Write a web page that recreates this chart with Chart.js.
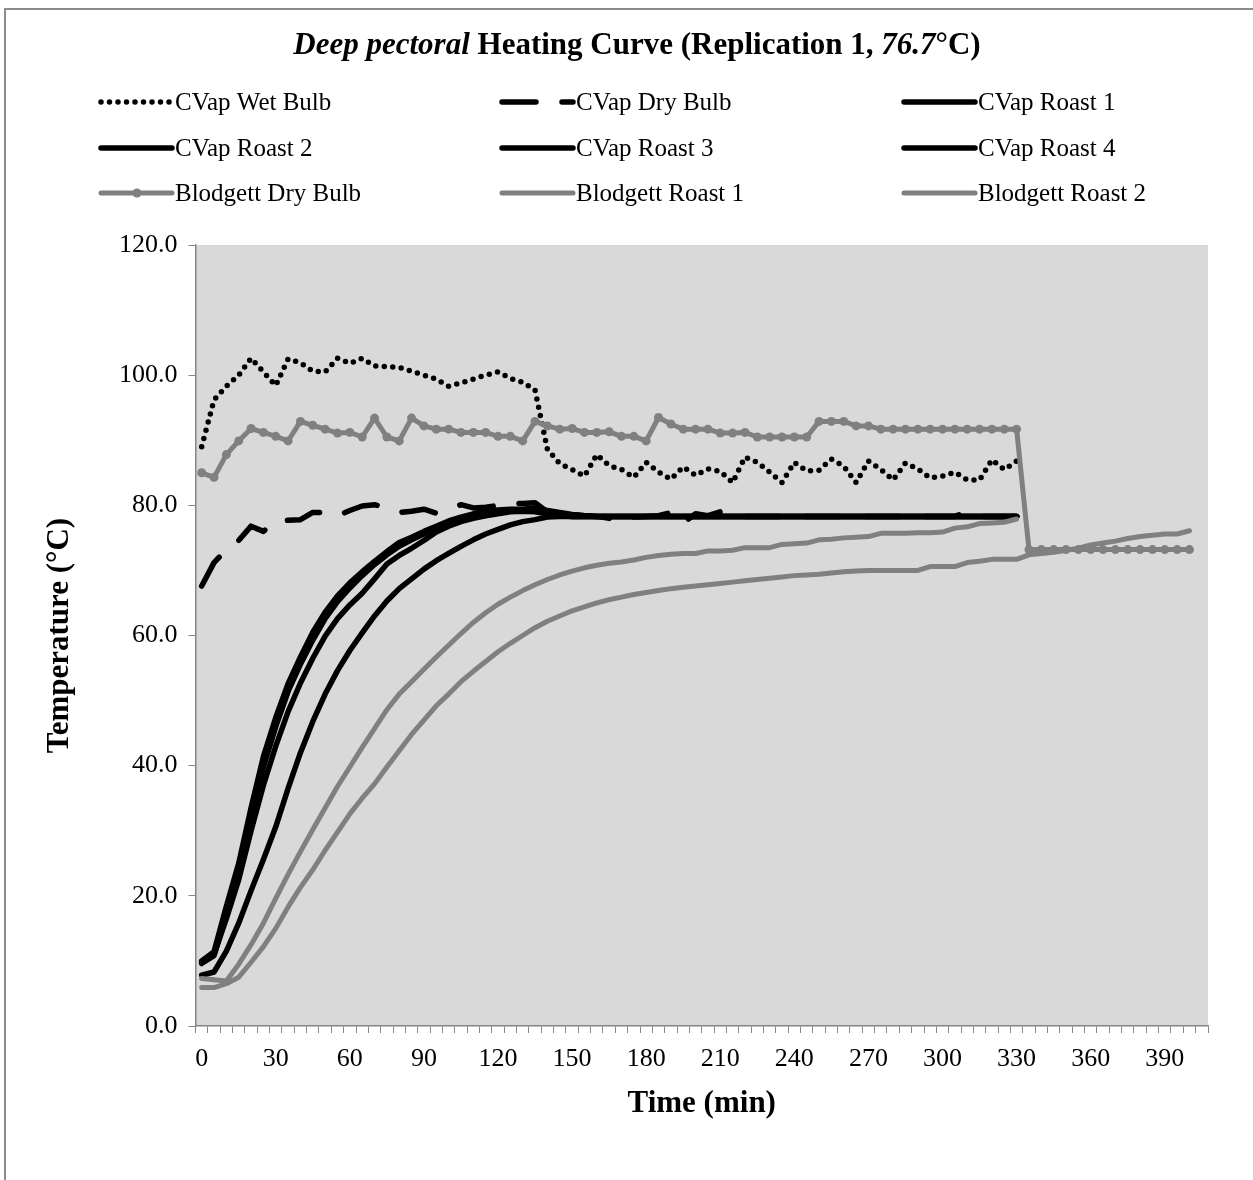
<!DOCTYPE html>
<html><head><meta charset="utf-8">
<script src="https://cdn.jsdelivr.net/npm/chart.js@4.4.1/dist/chart.umd.min.js"></script>
<style>html,body{margin:0;padding:0;background:#fff;}canvas{display:block;}</style>
</head><body>
<canvas id="c" width="1253" height="1180"></canvas>
<script>
const timeLabels = [0,5,10,15,20,25,30,35,40,45,50,55,60,65,70,75,80,85,90,95,100,105,110,115,120,125,130,135,140,145,150,155,160,165,170,175,180,185,190,195,200,205,210,215,220,225,230,235,240,245,250,255,260,265,270,275,280,285,290,295,300,305,310,315,320,325,330,335,340,345,350,355,360,365,370,375,380,385,390,395,400,405];
const yTicks = [0,20,40,60,80,100,120];

const cvapWetBulb = [89.0,96.2,98.3,100.0,102.6,100.5,98.4,102.5,101.9,100.6,100.5,102.6,101.8,102.6,101.4,101.3,101.2,100.6,100.0,99.4,98.3,98.8,99.4,100.0,100.5,99.5,98.9,97.7,88.6,86.4,85.5,84.5,87.8,86.1,85.5,84.3,86.6,85.1,84.0,85.9,84.6,85.6,85.2,83.5,87.4,86.6,85.1,83.5,86.6,85.3,85.4,87.1,86.0,83.5,86.8,85.5,83.9,86.5,85.6,84.2,84.5,85.1,83.9,83.9,87.0,85.5,86.8];
const cvapDryBulb = [67.6,71.2,73.2,74.6,76.8,76.0,77.6,77.7,77.8,78.9,78.9,78.4,79.2,79.9,80.1,79.6,78.9,79.1,79.4,78.8,79.4,80.1,79.6,79.7,80.0,80.3,80.3,80.4,79.0,78.5,78.6,78.4,78.3,78.0,77.5,78.2,78.3,78.4,78.9,77.3,78.7,78.4,79.0,78.3,78.3,78.3,78.3,78.3,78.3,78.3,78.3,78.3,78.3,78.3,78.3,78.3,78.3,78.3,78.3,78.3,78.3,78.3,79.0,78.3,78.3,78.3,78.3];
const cvapRoast1 = [10.0,11.4,18.4,25.0,33.5,41.4,47.4,52.6,56.7,60.5,63.6,66.1,68.1,69.8,71.4,72.9,74.3,75.1,76.0,76.8,77.6,78.2,78.7,79.1,79.3,79.4,79.4,79.6,79.2,78.9,78.6,78.4,78.3,78.3,78.3,78.3,78.3,78.3,78.3,78.3,78.3,78.3,78.3,78.3,78.3,78.3,78.3,78.3,78.3,78.3,78.3,78.3,78.3,78.3,78.3,78.3,78.3,78.3,78.3,78.3,78.3,78.3,78.3,78.3,78.3,78.3,78.3];
const cvapRoast2 = [9.6,10.8,17.0,23.6,31.8,39.8,46.0,51.4,55.6,59.3,62.6,65.2,67.3,69.2,70.9,72.4,73.7,74.7,75.6,76.4,77.2,77.8,78.3,78.7,79.0,79.2,79.3,79.1,78.8,78.5,78.3,78.3,78.3,78.3,78.3,78.3,78.3,78.3,78.3,78.3,78.3,78.3,78.3,78.3,78.3,78.3,78.3,78.3,78.3,78.3,78.3,78.3,78.3,78.3,78.3,78.3,78.3,78.3,78.3,78.3,78.3,78.3,78.3,78.3,78.3,78.3,78.3];
const cvapRoast3 = [9.8,11.0,16.5,22.5,30.0,37.0,43.0,48.3,52.7,56.5,59.9,62.6,64.7,66.5,68.7,71.0,72.3,73.4,74.6,75.9,76.8,77.5,78.0,78.4,78.7,79.0,79.1,79.0,78.7,78.4,78.3,78.3,78.3,78.3,78.3,78.3,78.3,78.3,78.3,78.3,78.3,78.3,78.3,78.3,78.3,78.3,78.3,78.3,78.3,78.3,78.3,78.3,78.3,78.3,78.3,78.3,78.3,78.3,78.3,78.3,78.3,78.3,78.3,78.3,78.3,78.3,78.3];
const cvapRoast4 = [7.8,8.3,11.5,15.8,20.8,25.6,30.6,36.5,42.0,46.8,51.0,54.6,57.7,60.4,63.0,65.3,67.2,68.7,70.2,71.5,72.6,73.7,74.7,75.6,76.3,77.0,77.5,77.8,78.2,78.3,78.3,78.3,78.3,78.3,78.3,78.3,78.3,78.3,78.3,78.3,78.3,78.3,78.3,78.3,78.3,78.3,78.3,78.3,78.3,78.3,78.3,78.3,78.3,78.3,78.3,78.3,78.3,78.3,78.3,78.3,78.3,78.3,78.3,78.3,78.3,78.3,78.3];
const blodgettDryBulb = [85.0,84.3,87.8,89.9,91.8,91.2,90.6,89.9,92.9,92.3,91.7,91.1,91.2,90.5,93.4,90.5,89.9,93.4,92.2,91.7,91.7,91.2,91.2,91.2,90.6,90.6,89.9,92.9,92.2,91.7,91.8,91.2,91.2,91.3,90.6,90.6,89.9,93.5,92.5,91.7,91.7,91.7,91.1,91.1,91.2,90.5,90.5,90.5,90.5,90.5,92.9,92.9,92.9,92.2,92.2,91.7,91.7,91.7,91.7,91.7,91.7,91.7,91.7,91.7,91.7,91.7,91.7,73.2,73.2,73.2,73.2,73.2,73.2,73.2,73.2,73.2,73.2,73.2,73.2,73.2,73.2];
const blodgettRoast1 = [7.3,7.1,6.9,9.5,12.5,15.8,19.6,23.3,26.8,30.2,33.5,36.8,39.8,42.8,45.7,48.6,51.0,52.9,54.8,56.7,58.5,60.3,62.0,63.5,64.8,65.9,66.9,67.8,68.6,69.3,69.9,70.4,70.8,71.1,71.3,71.6,72.0,72.3,72.5,72.6,72.6,73.0,73.0,73.1,73.5,73.5,73.5,74.0,74.1,74.2,74.7,74.8,75.0,75.1,75.2,75.7,75.7,75.7,75.8,75.8,75.9,76.5,76.7,77.2,77.3,77.4,77.9];
const blodgettRoast2 = [5.9,5.9,6.5,7.5,9.8,12.2,15.0,18.3,21.3,24.0,27.0,29.8,32.6,35.0,37.2,39.8,42.3,44.8,47.0,49.2,51.0,52.9,54.5,56.0,57.5,58.8,60.0,61.2,62.2,63.0,63.8,64.4,65.0,65.5,65.9,66.3,66.6,66.9,67.2,67.4,67.6,67.8,68.0,68.2,68.4,68.6,68.8,69.0,69.2,69.3,69.4,69.6,69.8,69.9,70.0,70.0,70.0,70.0,70.0,70.6,70.6,70.6,71.2,71.4,71.7,71.7,71.7,72.4,72.6,72.8,73.1,73.4,73.9,74.2,74.5,74.9,75.2,75.4,75.6,75.6,76.1];

const seriesNames = ['CVap Wet Bulb','CVap Dry Bulb','CVap Roast 1','CVap Roast 2','CVap Roast 3','CVap Roast 4','Blodgett Dry Bulb','Blodgett Roast 1','Blodgett Roast 2'];

const FONT = "'Liberation Serif','Times New Roman',serif";
const BLACK = '#000000', GRAY = '#808080', AXIS = '#868686';

function ds(label, data, color, extra) {
  return Object.assign({label, data, borderColor: color, backgroundColor: color, borderWidth: 5,
    pointRadius: 0, pointHoverRadius: 0, borderCapStyle: 'round', borderJoinStyle: 'round',
    tension: 0, spanGaps: false, fill: false}, extra || {});
}
const datasets = [
  ds(seriesNames[0], cvapWetBulb, BLACK, {borderWidth: 5.5, borderDash: [0, 8.5]}),
  ds(seriesNames[1], cvapDryBulb, BLACK, {borderWidth: 5.5, borderDash: [34, 26]}),
  ds(seriesNames[2], cvapRoast1, BLACK, {borderWidth: 5.5}),
  ds(seriesNames[3], cvapRoast2, BLACK, {borderWidth: 5.5}),
  ds(seriesNames[4], cvapRoast3, BLACK, {borderWidth: 5.5}),
  ds(seriesNames[5], cvapRoast4, BLACK, {borderWidth: 5.5}),
  ds(seriesNames[6], blodgettDryBulb, GRAY, {pointRadius: 4.5, pointBorderWidth: 0, pointBackgroundColor: GRAY, pointStyle: 'circle'}),
  ds(seriesNames[7], blodgettRoast1, GRAY),
  ds(seriesNames[8], blodgettRoast2, GRAY)
];
datasets.forEach((d, i) => { d.order = datasets.length - i; });

const bgPlugin = {
  id: 'bg',
  beforeDraw(chart) {
    const {ctx, chartArea: a} = chart;
    ctx.save();
    ctx.fillStyle = '#ffffff';
    ctx.fillRect(0, 0, chart.width, chart.height);
    ctx.fillStyle = '#d9d9d9';
    ctx.fillRect(a.left, a.top, a.right - a.left, a.bottom - a.top);
    ctx.strokeStyle = '#8c8c8c';
    ctx.lineWidth = 2;
    ctx.beginPath();
    ctx.moveTo(5, chart.height); ctx.lineTo(5, 9); ctx.lineTo(chart.width, 9);
    ctx.stroke();
    ctx.restore();
  },
  afterDraw(chart) {
    const {ctx, chartArea: a} = chart;
    ctx.save();
    // title
    const TS = 31;
    const segs = [
      {t: 'Deep pectoral', f: 'italic bold ' + TS + 'px ' + FONT},
      {t: ' Heating Curve (Replication 1, ', f: 'bold ' + TS + 'px ' + FONT},
      {t: '76.7', f: 'italic bold ' + TS + 'px ' + FONT},
      {t: '\u00B0C)', f: 'bold ' + TS + 'px ' + FONT}
    ];
    let total = 0;
    segs.forEach(s => { ctx.font = s.f; s.w = ctx.measureText(s.t).width; total += s.w; });
    let x = 637 - total / 2;
    ctx.fillStyle = '#000';
    ctx.textBaseline = 'middle';
    ctx.textAlign = 'left';
    segs.forEach(s => { ctx.font = s.f; ctx.fillText(s.t, x, 46); x += s.w; });
    // legend
    const colX = [98, 499, 901], rowY = [102, 148, 193], sampleLen = 74;
    chart.data.datasets.forEach((d, i) => {
      const cx = colX[i % 3], cy = rowY[Math.floor(i / 3)];
      ctx.save();
      ctx.strokeStyle = d.borderColor;
      ctx.lineWidth = d.borderWidth;
      ctx.lineCap = d.borderCapStyle || 'butt';
      ctx.setLineDash(d.borderDash || []);
      ctx.beginPath();
      ctx.moveTo(cx + 3, cy); ctx.lineTo(cx + sampleLen, cy);
      ctx.stroke();
      if (d.pointRadius > 0) {
        ctx.setLineDash([]);
        ctx.fillStyle = d.pointBackgroundColor;
        ctx.beginPath(); ctx.arc(cx + sampleLen / 2 + 2, cy, d.pointRadius, 0, Math.PI * 2); ctx.fill();
      }
      ctx.restore();
      ctx.font = '25px ' + FONT;
      ctx.fillStyle = '#000';
      ctx.textBaseline = 'middle';
      ctx.fillText(d.label, cx + sampleLen + 3, cy + 1);
    });
    // axis titles
    ctx.font = 'bold 31px ' + FONT;
    ctx.textAlign = 'center';
    ctx.fillText('Time (min)', (a.left + a.right) / 2, 1104);
    ctx.translate(60, (a.top + a.bottom) / 2);
    ctx.rotate(-Math.PI / 2);
    ctx.fillText('Temperature (\u00B0C)', 0, 0);
    ctx.restore();
  }
};

new Chart(document.getElementById('c'), {
  type: 'line',
  data: {labels: timeLabels, datasets},
  options: {
    responsive: false,
    animation: false,
    devicePixelRatio: 1,
    layout: {padding: {top: 245, right: 45, bottom: 0, left: 0}},
    plugins: {legend: {display: false}, title: {display: false}, tooltip: {enabled: false}},
    elements: {line: {borderJoinStyle: 'round'}},
    scales: {
      x: {
        type: 'category', offset: true,
        grid: {offset: true, drawOnChartArea: false, drawTicks: true, tickLength: 7, color: AXIS, lineWidth: 1},
        border: {color: AXIS, width: 1.5},
        ticks: {autoSkip: false, maxRotation: 0, minRotation: 0, padding: 11, color: '#000',
          font: {family: FONT, size: 26},
          callback: (v, i) => (timeLabels[i] % 30 === 0 ? String(timeLabels[i]) : '')},
        afterFit: s => { s.height = 154; }
      },
      y: {
        min: 0, max: 120,
        grid: {drawOnChartArea: false, drawTicks: true, tickLength: 7, color: AXIS, lineWidth: 1},
        border: {color: AXIS, width: 1.5},
        afterBuildTicks: s => { s.ticks = yTicks.map(v => ({value: v})); },
        ticks: {padding: 11, color: '#000', font: {family: FONT, size: 26},
          callback: v => Number(v).toFixed(1)},
        afterFit: s => { s.width = 195.5; }
      }
    }
  },
  plugins: [bgPlugin]
});
</script>
</body></html>
